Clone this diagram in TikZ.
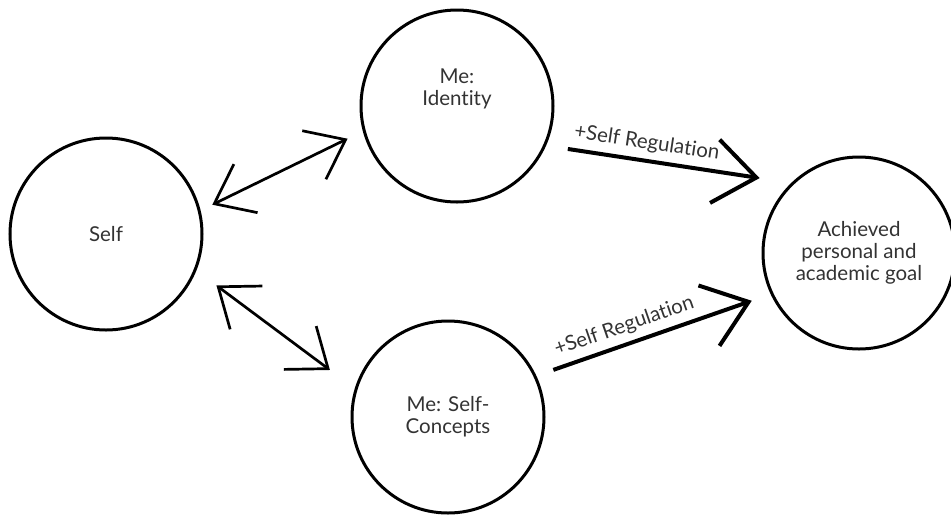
\documentclass[tikz,border=0pt]{standalone}
\usepackage{fontspec}
\setmainfont{Lato}[Ligatures=NoCommon]
\usetikzlibrary{arrows.meta}
\definecolor{textgray}{HTML}{333333}

\begin{document}
\begin{tikzpicture}[x=1pt, y=-1pt,
    bubble/.style={circle, draw, line width=3pt, minimum size=192pt, inner sep=0pt},
    caption/.style={align=center, text=textgray, font=\fontsize{20.5}{21.8}\selectfont},
    link/.style={line width=2.7pt, {Straight Barb[length=35pt,width=54pt]}-{Straight Barb[length=35pt,width=54pt]}},
    push/.style={line width=4pt, -{Straight Barb[length=42pt,width=64pt]}},
    tag/.style={sloped, above=3pt, pos=0.4, text=textgray, font=\fontsize{20.5}{22}\selectfont}]
    % Fix the page size
    \useasboundingbox (0,0) rectangle (951,515);

    % Draw the four circles
    \node[bubble, caption] (self) at (106,234) {Self};
    \node[bubble] (identity) at (457,106) {};
    \node[caption] (idtext) at ([yshift=17pt]identity.center) {Me:\\Identity};
    \node[bubble, caption] (concepts) at (448,417) {Me: Self-\\Concepts};
    \node[bubble, caption] (achieved) at (859,253) {Achieved\\personal and\\academic goal};

    % Two-way arrows from the self
    \draw[link, shorten <=13pt, shorten >=17pt] (self.14) -- (identity.195);
    \draw[link, shorten <=25pt, shorten >=31pt] (self.338) -- (concepts.163);

    % Arrows to the goal
    \draw[push, shorten <=22pt, shorten >=32pt] (identity.336) -- node[tag] {+Self Regulation} (achieved.134);
    \draw[push, shorten <=18pt, shorten >=20pt] (concepts.25) -- node[tag] {+Self Regulation} (achieved.205);

\end{tikzpicture}
\end{document}
